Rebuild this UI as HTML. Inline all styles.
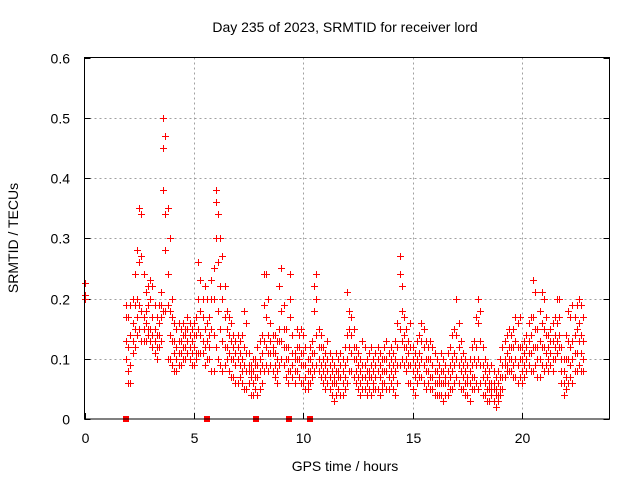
<!DOCTYPE html>
<html><head><meta charset="utf-8"><style>
html,body{margin:0;padding:0;background:#fff}
svg{display:block;font-family:"Liberation Sans",sans-serif}
</style></head><body>
<svg id="chart" width="640" height="480" viewBox="0 0 640 480">
<rect width="640" height="480" fill="#fff"/>
<text x="345" y="32" font-size="14" text-anchor="middle" fill="#000">Day 235 of 2023, SRMTID for receiver lord</text>
<g id="grid" shape-rendering="crispEdges"></g>
<g id="axes"></g>
<g id="marks"></g>
<rect x="84.5" y="57.5" width="525" height="361.5" fill="none" stroke="#000" stroke-width="1" shape-rendering="crispEdges"/>
<text transform="translate(18,238) rotate(-90)" font-size="14" text-anchor="middle" fill="#000">SRMTID / TECUs</text>
<text x="345" y="471" font-size="14" text-anchor="middle" fill="#000">GPS time / hours</text>
</svg>
<script>
const xTicks=[0,5,10,15,20];
const yTicks=[0,0.1,0.2,0.3,0.4,0.5,0.6];
const yTickLabels=["0","0.1","0.2","0.3","0.4","0.5","0.6"];
const startPoints=[[0,0.225],[0,0.205],[0,0.2]];
const outageHours=[1.9,5.6,7.85,9.35,10.3];
// [hour, values in hundredths of TECU...]
const readings=[
[1.9,19,17,13,10],[2.0,17,12,8,6],[2.1,19,14,9,6],[2.2,20,16,13,11],[2.3,24,19,15,12],[2.4,28,20,17,14],[2.5,35,26,19,15],[2.6,34,27,18,13],[2.7,24,17,15,13],[2.8,21,18,16,13],[2.9,22,19,15,14],
[3.0,23,20,15,13],[3.1,22,17,14,12],[3.2,19,15,13,11],[3.3,17,14,12,10],[3.4,19,16,14,12],[3.5,21,19,17,13],[3.6,50,45,38,18],[3.7,47,34,28,18],[3.8,35,24,19,10],[3.9,30,18,14,10],
[4.0,20,17,13,9],[4.1,16,13,11,8],[4.2,15,12,10,8],[4.3,16,13,11,9],[4.4,15,13,11,9],[4.5,16,14,12,10],[4.6,15,14,12,10],[4.7,17,15,13,11],[4.8,16,14,12,10],[4.9,15,13,11,9],
[5.0,16,14,12,9],[5.1,17,14,11,10],[5.2,26,20,15,11],[5.3,23,18,14,11],[5.4,20,17,13,11],[5.5,22,15,12,9],[5.6,20,16,13,10],[5.7,17,14,12,10],[5.8,23,20,15,8],[5.9,25,20,14,8],
[6.0,38,36,30,12],[6.1,34,26,18,10],[6.2,30,22,15,9],[6.3,27,20,13,8],[6.4,22,17,12,9],[6.5,18,15,12,10],[6.6,17,14,11,8],[6.7,16,13,10,7],[6.8,14,12,10,7],[6.9,13,11,9,6],
[7.0,14,12,10,6],[7.1,13,11,9,7],[7.2,14,10,8,6],[7.3,18,12,9,5],[7.4,16,11,8,5],[7.5,11,9,8,6],[7.6,9,8,7,4],[7.7,10,8,6,4],[7.8,10,9,7,5],[7.9,12,9,7,4],
[8.0,13,10,8,5],[8.1,14,11,9,6],[8.2,24,19,13,8],[8.3,24,17,12,9],[8.4,20,14,11,8],[8.5,16,13,11,9],[8.6,14,12,11,8],[8.7,14,11,9,7],[8.8,13,10,8,6],[8.9,22,15,13,9],
[9.0,25,18,13,10],[9.1,19,15,12,9],[9.2,15,12,10,7],[9.3,12,10,8,6],[9.4,24,20,17,8],[9.5,14,11,9,7],[9.6,11,10,8,6],[9.7,15,12,10,8],[9.8,14,12,10,7],[9.9,15,11,9,6],
[10.0,14,11,9,6],[10.1,12,9,7,5],[10.2,10,8,6,5],[10.3,12,10,8,6],[10.4,13,11,9,7],[10.5,22,18,11,8],[10.6,24,20,14,9],[10.7,15,12,10,8],[10.8,14,12,9,7],[10.9,12,10,8,6],
[11.0,11,9,7,5],[11.1,13,10,8,6],[11.2,11,9,7,5],[11.3,10,8,6,4],[11.4,9,7,6,3],[11.5,11,8,6,4],[11.6,10,8,7,5],[11.7,11,9,7,4],[11.8,10,8,6,4],[11.9,12,9,7,5],
[12.0,21,14,10,6],[12.1,18,15,12,8],[12.2,17,14,11,8],[12.3,15,12,10,7],[12.4,12,10,8,6],[12.5,11,9,7,5],[12.6,10,8,6,4],[12.7,13,9,7,5],[12.8,12,9,7,5],[12.9,10,8,6,4],
[13.0,11,8,7,5],[13.1,12,9,7,4],[13.2,10,8,6,5],[13.3,11,9,7,5],[13.4,12,10,8,5],[13.5,11,9,7,4],[13.6,10,8,6,5],[13.7,12,10,8,6],[13.8,13,10,8,5],[13.9,11,9,7,5],
[14.0,12,10,8,6],[14.1,11,9,7,5],[14.2,13,10,8,4],[14.3,16,12,9,6],[14.4,27,24,15,9],[14.5,22,18,13,10],[14.6,17,14,12,9],[14.7,15,12,10,8],[14.8,13,11,9,6],[14.9,16,12,9,6],
[15.0,12,10,8,5],[15.1,11,9,7,4],[15.2,13,10,8,6],[15.3,14,11,9,7],[15.4,16,13,10,7],[15.5,15,12,9,6],[15.6,13,10,8,5],[15.7,12,10,8,6],[15.8,13,10,7,5],[15.9,12,9,7,5],
[16.0,11,8,6,4],[16.1,10,8,6,4],[16.2,9,7,6,4],[16.3,11,8,6,4],[16.4,10,8,6,3],[16.5,9,7,6,4],[16.6,11,8,6,4],[16.7,12,9,7,5],[16.8,14,10,8,5],[16.9,15,11,9,6],
[17.0,20,14,10,7],[17.1,16,12,9,6],[17.2,13,10,8,5],[17.3,11,9,7,5],[17.4,10,8,6,4],[17.5,9,7,6,4],[17.6,10,8,6,3],[17.7,12,9,7,5],[17.8,13,10,7,5],[17.9,17,12,9,6],
[18.0,20,16,10,5],[18.1,18,13,9,6],[18.2,12,9,7,4],[18.3,10,8,6,4],[18.4,9,7,5,3],[18.5,8,6,5,3],[18.6,9,6,5,4],[18.7,8,6,5,3],[18.8,7,5,4,2],[18.9,8,6,4,3],
[19.0,10,7,5,4],[19.1,12,9,7,5],[19.2,13,10,9,7],[19.3,14,11,9,8],[19.4,15,12,10,8],[19.5,14,12,10,8],[19.6,15,12,9,7],[19.7,17,13,10,7],[19.8,16,12,9,6],[19.9,17,12,10,7],
[20.0,12,10,8,6],[20.1,13,11,9,7],[20.2,14,12,10,8],[20.3,16,13,11,9],[20.4,17,14,11,8],[20.5,23,17,12,8],[20.6,21,15,12,9],[20.7,15,12,10,7],[20.8,18,13,10,7],[20.9,21,16,12,9],
[21.0,20,15,12,8],[21.1,17,14,11,9],[21.2,14,12,10,8],[21.3,15,13,11,9],[21.4,16,13,10,8],[21.5,17,14,12,10],[21.6,20,16,13,11],[21.7,20,17,14,12],[21.8,12,10,8,6],[21.9,10,8,6,4],
[22.0,14,10,7,5],[22.1,18,13,10,6],[22.2,17,12,9,7],[22.3,19,13,10,6],[22.4,17,14,11,8],[22.5,19,15,11,8],[22.6,20,16,13,9],[22.7,19,14,11,8],[22.8,17,13,10,8]
];
const NS="http://www.w3.org/2000/svg";
const X0=84.5,X1=609.5,Y0=419,Y1=57.5,XMAX=24,YMAX=0.6;
function xs(h){return X0+(X1-X0)*h/XMAX;}
function ys(v){return Y0-(Y0-Y1)*v/YMAX;}
function mk(tag,attrs,parent){const e=document.createElementNS(NS,tag);for(const k in attrs)e.setAttribute(k,attrs[k]);parent.appendChild(e);return e;}
const grid=document.getElementById('grid'),axes=document.getElementById('axes'),marks=document.getElementById('marks');
yTicks.forEach((v,i)=>{
  const y=Math.round(ys(v))+0.5;
  if(i>0&&i<yTicks.length-1){const g=mk('line',{x1:X0,x2:X1,y1:y,y2:y,stroke:'#a0a0a0','stroke-dasharray':'2,3'},grid);
  
  }
  const t=mk('line',{x1:X0,x2:X0+6,y1:y,y2:y,stroke:'#000','shape-rendering':'crispEdges'},axes);
  
  
  const t2=mk('line',{x1:X1-6,x2:X1,y1:y,y2:y,stroke:'#000','shape-rendering':'crispEdges'},axes);
  
  
  const l=mk('text',{x:70,y:y+5,'font-size':14,'text-anchor':'end',fill:'#000'},axes);
  l.textContent=yTickLabels[i];
  
  
});
xTicks.forEach(h=>{
  const x=Math.round(xs(h))+0.5;
  if(h>0){const g=mk('line',{x1:x,x2:x,y1:Y1,y2:Y0,stroke:'#a0a0a0','stroke-dasharray':'2,3'},grid);
  
  }
  const t=mk('line',{x1:x,x2:x,y1:Y0,y2:Y0-6,stroke:'#000','shape-rendering':'crispEdges'},axes);
  
  
  const l=mk('text',{x:x,y:443,'font-size':14,'text-anchor':'middle',fill:'#000'},axes);
  l.textContent=String(h);
  
  
});
let d='';
function plus(h,v){const x=Math.round(xs(h)),y=Math.round(ys(v));d+=`M${x-3} ${y}h7v1h-7zM${x} ${y-3}h1v7h-1z`;}
startPoints.forEach(p=>plus(p[0],p[1]));
readings.forEach(r=>{for(let i=1;i<r.length;i++)plus(r[0],r[i]/100);});
const p=mk('path',{d:d,fill:'#ff0000',stroke:'none'},marks);


outageHours.forEach(h=>{
  const s=mk('rect',{x:Math.round(xs(h))-3,y:Math.round(Y0)-3,width:6,height:6,fill:'#ff0000'},marks);
  
  
});
</script>
</body></html>
